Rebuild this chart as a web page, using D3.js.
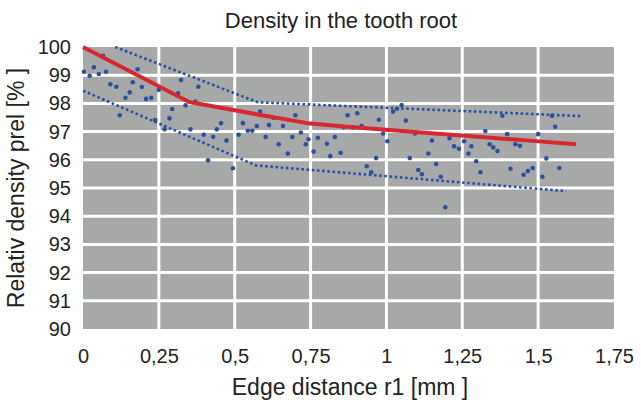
<!DOCTYPE html>
<html>
<head>
<meta charset="utf-8">
<script src="https://cdn.jsdelivr.net/npm/d3@7"></script>
<style>
  body { margin: 0; background: #fff; }
  svg { font-family: "Liberation Sans", Arial, sans-serif; }
</style>
</head>
<body>
<div id="chart"></div>
<script>
// measured points (edge distance mm, relative density %)
const pointsX = [0.003, 0.022, 0.036, 0.052, 0.066, 0.076, 0.090, 0.110, 0.121, 0.140,
  0.154, 0.164, 0.180, 0.194, 0.208, 0.225, 0.238, 0.250, 0.269, 0.285,
  0.294, 0.313, 0.323, 0.338, 0.354, 0.370, 0.380, 0.398, 0.412, 0.429,
  0.441, 0.455, 0.473, 0.494, 0.513, 0.527, 0.543, 0.558, 0.573, 0.584,
  0.602, 0.613, 0.627, 0.645, 0.659, 0.675, 0.690, 0.700, 0.718, 0.734,
  0.743, 0.760, 0.774, 0.804, 0.815, 0.830, 0.849, 0.859, 0.872, 0.888,
  0.904, 0.918, 0.935, 0.950, 0.966, 0.975, 0.989, 1.003, 1.022, 1.035,
  1.050, 1.064, 1.077, 1.094, 1.105, 1.117, 1.138, 1.150, 1.164, 1.179,
  1.194, 1.208, 1.223, 1.239, 1.256, 1.270, 1.280, 1.296, 1.310, 1.326,
  1.340, 1.352, 1.366, 1.382, 1.398, 1.409, 1.425, 1.440, 1.452, 1.466,
  1.482, 1.500, 1.514, 1.527, 1.546, 1.556, 1.570]
const pointsY = [99.12, 98.98, 99.28, 99.04, 99.69, 99.12, 98.68, 98.59, 97.58, 98.20,
  98.39, 98.75, 99.21, 98.58, 98.16, 98.20, 97.41, 98.48, 97.08, 97.47,
  97.80, 98.36, 98.83, 97.93, 97.08, 98.06, 98.59, 96.89, 95.98, 96.82,
  97.08, 97.30, 96.68, 95.70, 96.89, 97.30, 97.03, 97.03, 97.20, 97.71,
  96.81, 97.23, 97.49, 96.55, 97.20, 96.22, 96.81, 97.58, 96.97, 96.55,
  96.73, 96.29, 96.78, 96.57, 96.13, 96.81, 96.25, 97.16, 97.58, 97.15,
  97.65, 97.20, 95.77, 95.56, 96.06, 97.42, 96.93, 96.66, 97.71, 97.81,
  97.94, 97.39, 96.06, 96.93, 95.64, 95.49, 96.22, 96.68, 95.85, 95.40,
  94.32, 96.76, 96.48, 96.39, 96.66, 96.22, 96.48, 95.95, 95.56, 97.02,
  96.55, 96.44, 96.31, 97.56, 96.91, 95.68, 96.55, 96.50, 95.47, 95.60,
  95.71, 96.91, 95.40, 96.05, 97.56, 97.17, 95.71]

// red trend line
const trendX = [0, 0.35, 0.58, 0.74, 0.87, 1.17, 1.47, 1.625]
const trendY = [100, 98.05, 97.6, 97.3, 97.17, 96.92, 96.68, 96.55]

// dotted bounds
const upperX = [0.106, 0.576, 1.64]
const upperY = [100, 98.04, 97.55]
const lowerX = [0, 0.57, 1.592]
const lowerY = [98.45, 95.8, 94.89]

const xTicks = [0, 0.25, 0.5, 0.75, 1, 1.25, 1.5, 1.75]
const yTicks = [90, 91, 92, 93, 94, 95, 96, 97, 98, 99, 100]

const width = 641, height = 405
const margin = {top: 47, right: 27, bottom: 76, left: 83}

const svg = d3.select("#chart").append("svg")
    .attr("width", width)
    .attr("height", height)

const x = d3.scaleLinear().domain([0, 1.75]).range([margin.left, width - margin.right])
const y = d3.scaleLinear().domain([90, 100]).range([height - margin.bottom, margin.top])

// plot background
svg.append("rect")
    .attr("x", x(0))
    .attr("y", y(100))
    .attr("width", x(1.75) - x(0))
    .attr("height", y(90) - y(100))
    .attr("fill", "#a7a9a9")

// white grid
svg.append("g")
    .attr("stroke", "#fff")
    .attr("stroke-width", 3)
    .selectAll("line")
    .data(xTicks.slice(1, -1))
    .join("line")
    .attr("x1", d => x(d)).attr("x2", d => x(d))
    .attr("y1", y(100)).attr("y2", y(90))
svg.append("g")
    .attr("stroke", "#fff")
    .attr("stroke-width", 3)
    .selectAll("line")
    .data(yTicks.slice(1, -1))
    .join("line")
    .attr("x1", x(0)).attr("x2", x(1.75))
    .attr("y1", d => y(d)).attr("y2", d => y(d))

// axes (labels only)
const xAxis = svg.append("g")
    .attr("transform", `translate(0,${y(90)})`)
    .call(d3.axisBottom(x).tickValues(xTicks).tickSize(0).tickPadding(20)
        .tickFormat(d => String(d).replace(".", ",")))
xAxis.select(".domain").remove()
xAxis.selectAll("text").attr("font-size", 20).attr("fill", "#222")
    .attr("font-family", "Liberation Sans, Arial, sans-serif")

const yAxis = svg.append("g")
    .attr("transform", `translate(${x(0)},0)`)
    .call(d3.axisLeft(y).tickValues(yTicks).tickSize(0).tickPadding(12))
yAxis.select(".domain").remove()
yAxis.selectAll("text").attr("font-size", 20).attr("fill", "#222")
    .attr("font-family", "Liberation Sans, Arial, sans-serif")

// dotted bound lines
const line = d3.line().x(d => x(d[0])).y(d => y(d[1]))
const bounds = [d3.zip(upperX, upperY), d3.zip(lowerX, lowerY)]
svg.append("g")
    .selectAll("path")
    .data(bounds)
    .join("path")
    .attr("d", line)
    .attr("fill", "none")
    .attr("stroke", "#2a50a2")
    .attr("stroke-width", 2.6)
    .attr("stroke-dasharray", "2.6,2.6")

// points
svg.append("g")
    .attr("fill", "#2a50a2")
    .selectAll("circle")
    .data(d3.zip(pointsX, pointsY))
    .join("circle")
    .attr("cx", d => x(d[0]))
    .attr("cy", d => y(d[1]))
    .attr("r", 2.3)

// trend
svg.append("path")
    .datum(d3.zip(trendX, trendY))
    .attr("d", line)
    .attr("fill", "none")
    .attr("stroke", "#d7282f")
    .attr("stroke-width", 4)
    .attr("stroke-linejoin", "round")

// titles
svg.append("text")
    .attr("x", 341).attr("y", 28)
    .attr("text-anchor", "middle")
    .attr("font-size", 22).attr("fill", "#222")
    .text("Density in the tooth root")

svg.append("text")
    .attr("x", 350).attr("y", 395)
    .attr("text-anchor", "middle")
    .attr("font-size", 23).attr("fill", "#222")
    .text("Edge distance r1 [mm ]")

svg.append("text")
    .attr("transform", `translate(24,${(y(90) + y(100)) / 2}) rotate(-90)`)
    .attr("text-anchor", "middle")
    .attr("font-size", 23).attr("fill", "#222")
    .text("Relativ density prel [% ]")
</script>
</body>
</html>
